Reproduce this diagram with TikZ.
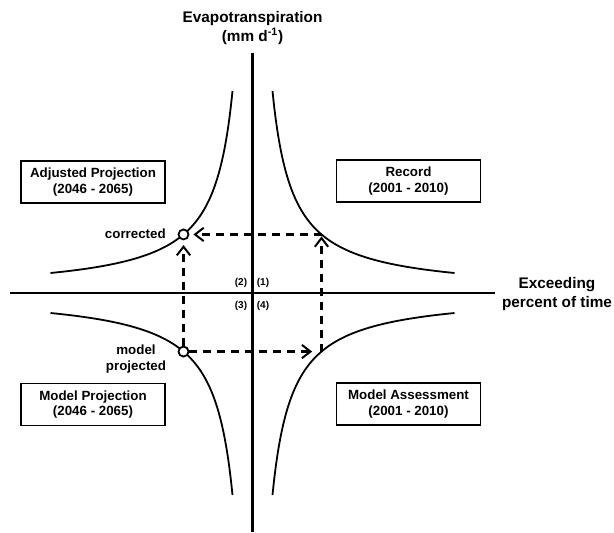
\documentclass[tikz,border=0pt]{standalone}
\usepackage{fontspec}
\setmainfont{Liberation Sans}
\usetikzlibrary{arrows.meta}
\begin{document}
\begin{tikzpicture}[x=0.75pt,y=-0.75pt,
  axis/.style={line width=1.7pt},
  curve/.style={line width=1.35pt},
  period/.style={draw, line width=1.35pt, minimum width=108pt, minimum height=31.5pt,
    align=center, inner sep=0pt, font=\bfseries\fontsize{10}{11.5}\selectfont},
  axislabel/.style={align=center, inner sep=0pt, font=\bfseries\fontsize{11.5}{14}\selectfont},
  quad/.style={inner sep=0pt, font=\bfseries\fontsize{7.5}{9}\selectfont},
  ptlabel/.style={align=center, inner sep=0pt, font=\bfseries\fontsize{10}{12.5}\selectfont},
  dot/.style={circle, draw, fill=white, line width=1.35pt, minimum size=7.5pt, inner sep=0pt},
  dasharrow/.style={line width=1.6pt, dash pattern=on 6pt off 4.5pt,
    -{Straight Barb[length=6.5pt,width=10pt,line width=1.5pt]}}
]
\useasboundingbox (0,0) rectangle (614,532);

% axes
\coordinate (ytop) at (252.5,53);
\coordinate (ybot) at (252.5,532);
\coordinate (xl) at (10,293);
\coordinate (xr) at (495,293);
\draw[axis] (ytop) -- (ybot);
\draw[axis] (xl) -- (xr);

\node[axislabel] (ylab) at (252.5,28) {Evapotranspiration\\(mm d\textsuperscript{-1})};
\node[axislabel] (xlab) at (557,294) {Exceeding\\percent of time};

% quadrant numbers
\node[quad] (n1) at (263,283) {(1)};
\node[quad] (n2) at (241,283) {(2)};
\node[quad] (n3) at (241,305.5) {(3)};
\node[quad] (n4) at (263,305.5) {(4)};

% hyperbolas
\draw[curve] plot[domain=20:202, samples=120, smooth] ({252.5+\x},{293-4040/\x});
\draw[curve] plot[domain=20:202, samples=120, smooth] ({252.5-\x},{293-4040/\x});
\draw[curve] plot[domain=20:202, samples=120, smooth] ({252.5-\x},{293+4040/\x});
\draw[curve] plot[domain=20:202, samples=120, smooth] ({252.5+\x},{293+4040/\x});

% boxes
\node[period] (adj) at (93,182) {Adjusted Projection\\(2046 - 2065)};
\node[period] (rec) at (408.5,181) {Record\\(2001 - 2010)};
\node[period] (mproj) at (93,404.5) {Model Projection\\(2046 - 2065)};
\node[period] (mass) at (408.5,404) {Model Assessment\\(2001 - 2010)};

% points on curves
\coordinate (q1) at (321.5,234.45);
\coordinate (q4) at (321.5,351.55);
\node[dot] (c2) at (183.5,234.45) {};
\node[dot] (c3) at (183.5,351.55) {};

% dashed arrows
\draw[dasharrow, shorten >=3pt] (q1) -- (c2);
\draw[dasharrow, shorten >=3.5pt] (c3) -- (c2);
\draw[dasharrow, shorten >=7pt] (c3) -- (q4);
\draw[dasharrow, shorten >=1.5pt] (q4) -- (q1);

% point labels
\node[ptlabel, anchor=east] (corr) at (166,234) {corrected};
\node[ptlabel] (mp) at (136,359) {model\\projected};
\end{tikzpicture}
\end{document}
